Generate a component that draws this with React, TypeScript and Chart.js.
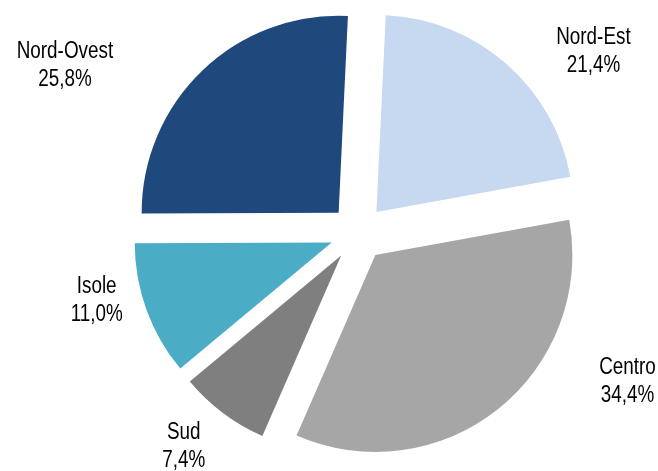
import React, { useEffect, useRef } from "react";
import { Chart, registerables, ArcElement } from "chart.js";

Chart.register(...registerables);

const categories = ["Nord-Est", "Centro", "Sud", "Isole", "Nord-Ovest"];
const shares = [21.4, 34.4, 7.4, 11.0, 25.8];
const colors = ["#c6d9f1", "#a6a6a6", "#7f7f7f", "#4bacc6", "#1f497d"];

// label placement: angular shift (deg) from slice middle, and distance as a multiple of the radius
const labelAngleShift = [11.1, -22.8, 2.3, 5.5, -16.6];
const labelDistance = [1.51, 1.562, 1.40, 1.37, 1.712];

const EXPLODE = 28; // px each slice is pulled out from the centre
const FONT = '"Liberation Sans", Arial, sans-serif';
const NARROW = 0.82;

// pull slices out without enlarging them (Chart.js's own offset also grows small slices)
const explodePlugin = {
  id: "explode",
  afterDatasetUpdate(chart: any) {
    const meta = chart.getDatasetMeta(0);
    meta.data.forEach((arc: any) => {
      if (arc.__exploded) return;
      arc.__exploded = true;
      arc.draw = function (ctx: CanvasRenderingContext2D) {
        const mid = (this.startAngle + this.endAngle) / 2;
        ctx.save();
        ctx.translate(Math.cos(mid) * EXPLODE, Math.sin(mid) * EXPLODE);
        ArcElement.prototype.draw.call(this, ctx);
        ctx.restore();
      };
    });
  },
};

const labelPlugin = {
  id: "outsideLabels",
  afterDatasetsDraw(chart: any) {
    const ctx = chart.ctx;
    const meta = chart.getDatasetMeta(0);
    meta.data.forEach((arc: any, i: number) => {
      const p = arc.getProps(["x", "y", "startAngle", "endAngle", "outerRadius"], true);
      const mid = (p.startAngle + p.endAngle) / 2 + (labelAngleShift[i] * Math.PI) / 180;
      const d = p.outerRadius * labelDistance[i];
      const cx = p.x + Math.cos(mid) * d;
      const cy = p.y + Math.sin(mid) * d;
      const val = shares[i].toFixed(1).replace(".", ",") + "%";
      ctx.save();
      ctx.translate(cx, cy);
      ctx.scale(NARROW, 1);
      ctx.fillStyle = "#000";
      ctx.font = `23px ${FONT}`;
      ctx.textAlign = "center";
      ctx.textBaseline = "middle";
      ctx.fillText(categories[i], 0, -14);
      ctx.fillText(val, 0, 14);
      ctx.restore();
    });
  },
};

export default function App() {
  const ref = useRef<HTMLCanvasElement | null>(null);
  useEffect(() => {
    if (!ref.current) return;
    const chart = new Chart(ref.current, {
      type: "pie",
      data: {
        labels: categories,
        datasets: [
          {
            data: shares,
            backgroundColor: colors,
            borderWidth: 0,
            offset: 0,
            hoverOffset: 0,
          },
        ],
      },
      options: {
        animation: false,
        responsive: true,
        maintainAspectRatio: false,
        rotation: 2.7,
        radius: 197,
        layout: { padding: { left: 58, right: 0, top: 0, bottom: 5 } },
        plugins: {
          legend: { display: false },
          tooltip: { enabled: false },
        },
        events: [],
      },
      plugins: [explodePlugin, labelPlugin],
    } as any);
    return () => chart.destroy();
  }, []);
  return (
    <div style={{ position: "fixed", left: 0, top: 0, width: 658, height: 471, background: "#fff" }}>
      <canvas ref={ref} />
    </div>
  );
}
